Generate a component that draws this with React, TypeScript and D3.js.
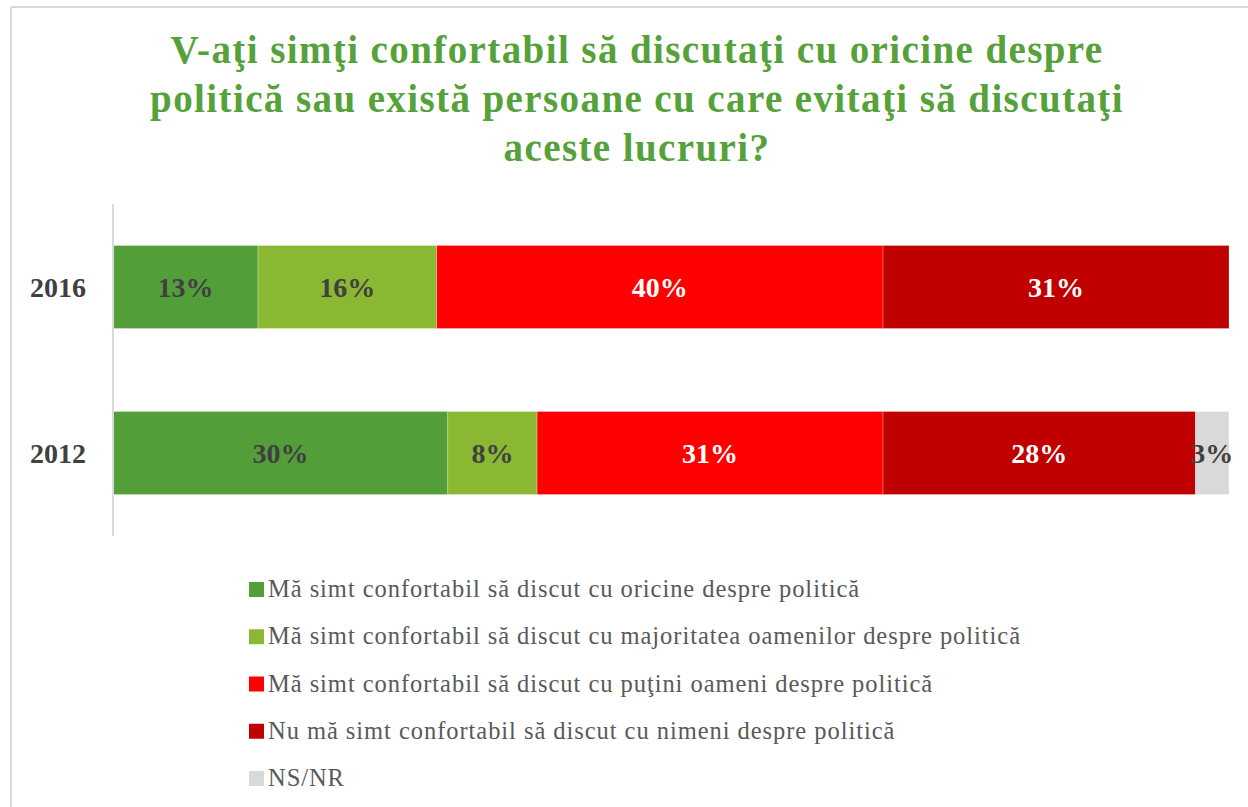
import React from "react";
import * as d3 from "d3";

const years = ["2016", "2012"];
const seriesNames = [
  "Mă simt confortabil să discut cu oricine despre politică",
  "Mă simt confortabil să discut cu majoritatea oamenilor despre politică",
  "Mă simt confortabil să discut cu puţini oameni despre politică",
  "Nu mă simt confortabil să discut cu nimeni despre politică",
  "NS/NR",
];
const values2016 = [13, 16, 40, 31, 0];
const values2012 = [30, 8, 31, 28, 3];
const colors = ["#549E39", "#8AB833", "#FF0000", "#C00000", "#D9D9D9"];
const labelColors = ["#404040", "#404040", "#FFFFFF", "#FFFFFF", "#404040"];
const titleLines = [
  "V-aţi simţi confortabil să discutaţi cu oricine despre",
  "politică sau există persoane cu care evitaţi să discutaţi",
  "aceste lucruri?",
];

const W = 1248;
const H = 807;
const FONT = "'Liberation Serif', 'DejaVu Serif', serif";

export default function App() {
  const data: Record<string, number[]> = { "2016": values2016, "2012": values2012 };
  const x = d3.scaleLinear().domain([0, 100]).range([113, 1229]);
  const y = d3
    .scaleBand<string>()
    .domain(years)
    .range([204, 536])
    .paddingInner(0.5)
    .paddingOuter(0.25);

  const legendY = d3
    .scalePoint<string>()
    .domain(seriesNames)
    .range([582, 771]);

  return (
    <svg
      width={W}
      height={H}
      style={{ position: "absolute", left: 0, top: 0, background: "#fff" }}
      fontFamily={FONT}
    >
      <rect x={0} y={0} width={W} height={H} fill="#fff" />
      {/* frame */}
      <line x1={11} y1={7} x2={W} y2={7} stroke="#D9D9D9" strokeWidth={2} />
      <line x1={11} y1={7} x2={11} y2={H} stroke="#D9D9D9" strokeWidth={2} />

      {/* title */}
      {titleLines.map((t, i) => (
        <text
          key={i}
          x={637}
          y={63 + i * 49}
          textAnchor="middle"
          fontSize={39}
          fontWeight="bold"
          letterSpacing={1.4}
          fill="#55A13A"
        >
          {t}
        </text>
      ))}

      {/* bars */}
      {years.map((yr) => {
        const vals = data[yr];
        const stack = d3.cumsum(vals);
        const y0 = y(yr)!;
        const bh = y.bandwidth();
        return (
          <g key={yr}>
            {vals.map((v, i) => {
              if (v <= 0) return null;
              const start = stack[i] - v;
              const x0 = x(start);
              const x1 = x(stack[i]);
              return (
                <g key={i}>
                  <rect
                    x={x0}
                    y={y0}
                    width={x1 - x0}
                    height={bh}
                    fill={colors[i]}
                    stroke="#ffffff"
                    strokeOpacity={0.35}
                    strokeWidth={0.75}
                  />
                  <text
                    x={(x0 + x1) / 2}
                    y={y0 + bh / 2 + 10}
                    textAnchor="middle"
                    fontSize={28}
                    fontWeight="bold"
                    fill={labelColors[i]}
                  >
                    {v}%
                  </text>
                </g>
              );
            })}
            <text
              x={86}
              y={y0 + bh / 2 + 10}
              textAnchor="end"
              fontSize={28}
              fontWeight="bold"
              fill="#404040"
            >
              {yr}
            </text>
          </g>
        );
      })}

      {/* axis line */}
      <line x1={113} y1={204} x2={113} y2={536} stroke="#D9D9D9" strokeWidth={2} />

      {/* legend */}
      {seriesNames.map((s, i) => {
        const ly = legendY(s)!;
        return (
          <g key={s}>
            <rect x={249} y={ly} width={15} height={15} fill={colors[i]} />
            <text x={268} y={ly + 15} fontSize={24.5} letterSpacing={0.95} fill="#595959">
              {s}
            </text>
          </g>
        );
      })}
    </svg>
  );
}
